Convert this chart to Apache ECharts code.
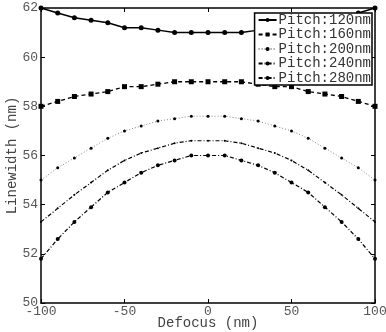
<!DOCTYPE html>
<html><head><meta charset="utf-8">
<script src="https://cdn.jsdelivr.net/npm/echarts@6/dist/echarts.min.js"></script>
<style>html,body{margin:0;padding:0;background:#fff}#c{width:386px;height:332px}</style>
</head><body><div id="c"></div>
<script>
var defocus = [-100,-90,-80,-70,-60,-50,-40,-30,-20,-10,0,10,20,30,40,50,60,70,80,90,100];
var seriesNames = ['Pitch:120nm','Pitch:160nm','Pitch:200nm','Pitch:240nm','Pitch:280nm'];
var pitch120 = [62.0,61.8,61.6,61.5,61.4,61.2,61.2,61.1,61.0,61.0,61.0,61.0,61.0,61.1,61.2,61.2,61.4,61.5,61.6,61.8,62.0];
var pitch160 = [58.0,58.2,58.4,58.5,58.6,58.8,58.8,58.9,59.0,59.0,59.0,59.0,59.0,58.9,58.8,58.8,58.6,58.5,58.4,58.2,58.0];
var pitch200 = [55.0,55.5,55.9,56.3,56.7,57.0,57.2,57.4,57.5,57.6,57.6,57.6,57.5,57.4,57.2,57.0,56.7,56.3,55.9,55.5,55.0];
var pitch240 = [53.3,53.85,54.4,54.9,55.4,55.8,56.1,56.3,56.5,56.6,56.6,56.6,56.5,56.3,56.1,55.8,55.4,54.9,54.4,53.85,53.3];
var pitch280 = [51.8,52.6,53.3,53.9,54.5,54.9,55.3,55.6,55.8,56.0,56.0,56.0,55.8,55.6,55.3,54.9,54.5,53.9,53.3,52.6,51.8];
var xTicks = [-100,-50,0,50,100];
var yTicks = [50,52,54,56,58,60,62];

function pairs(v){ return defocus.map(function(x,i){ return [x, v[i]]; }); }
var FONT = 'Liberation Mono';
var styles = [
  {data:pitch120, type:'solid', sym:'circle', size:5, color:'#000', width:1.5},
  {data:pitch160, type:[4,3], sym:'rect', size:5, color:'#000', width:1.3},
  {data:pitch200, type:[1,2], sym:'circle', size:3, color:'#888', width:1},
  {data:pitch240, type:[4,2,1,2], sym:'circle', size:2, color:'#000', width:1.2},
  {data:pitch280, type:[4,2,1,2], sym:'circle', size:4, color:'#000', width:1.2}
];
var series = styles.map(function(s,i){
  return {
    name: seriesNames[i], type:'line', data: pairs(s.data),
    symbol: s.sym, symbolSize: s.size, showSymbol:true,
    lineStyle:{color:s.color, width:s.width, type:s.type},
    itemStyle:{color:'#000', borderWidth:0},
    animation:false, z: 3
  };
});
function axisCommon(){
  return {
    axisLine:{onZero:false, lineStyle:{color:'#000', width:1.5}},
    axisTick:{inside:true, length:4, lineStyle:{color:'#000'}},
    splitLine:{show:false}
  };
}
var chart = echarts.init(document.getElementById('c'), null, {renderer:'canvas'});
chart.setOption({
  animation:false,
  backgroundColor:'#fff',
  grid:{left:41, right:11, top:8, bottom:29, containLabel:false, outerBoundsMode:'none'},
  legend:{
    data: seriesNames, orient:'vertical', right:14, top:13,
    itemWidth:18, itemHeight:5, itemGap:0.5,
    padding:[0,1,0,3],
    backgroundColor:'#fff', borderColor:'#000', borderWidth:1.5,
    textStyle:{fontFamily:FONT, fontSize:14, lineHeight:14, color:'#333', padding:[0,0,0,-3]},
    z: 10
  },
  xAxis:[Object.assign(axisCommon(), {
    type:'value', min:-100, max:100, interval:50,
    name:'Defocus (nm)', nameLocation:'middle', nameGap:13, nameMoveOverlap:false,
    nameTextStyle:{fontFamily:FONT, fontSize:14, color:'#444'},
    axisLabel:{fontFamily:FONT, fontSize:13, color:'#555', margin:2}
  }), Object.assign(axisCommon(), {
    type:'value', min:-100, max:100, interval:50, position:'top',
    axisLabel:{show:false}
  })],
  yAxis:[Object.assign(axisCommon(), {
    type:'value', min:50, max:62, interval:2,
    name:'Linewidth (nm)', nameLocation:'middle', nameGap:22, nameMoveOverlap:false,
    nameTextStyle:{fontFamily:FONT, fontSize:14, color:'#444'},
    axisLabel:{fontFamily:FONT, fontSize:13, color:'#555', margin:3}
  }), Object.assign(axisCommon(), {
    type:'value', min:50, max:62, interval:2, position:'right',
    axisLabel:{show:false}
  })],
  series: series
});
</script></body></html>
